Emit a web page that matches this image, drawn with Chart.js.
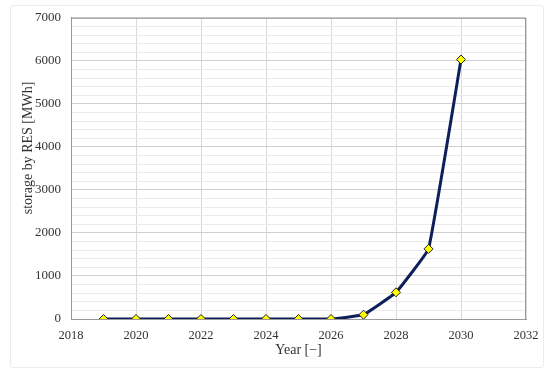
<!DOCTYPE html>
<html>
<head>
<meta charset="utf-8">
<script src="https://cdn.jsdelivr.net/npm/chart.js@4.4.0/dist/chart.umd.min.js"></script>
<style>
  html, body { margin: 0; padding: 0; background: #fff; }
  #wrap { position: relative; width: 550px; height: 373px; }
  #frame { position: absolute; left: 10px; top: 5px; width: 532px; height: 361px;
           border: 1px solid #ececec; border-radius: 3px; }
  canvas { position: absolute; left: 0; top: 0; }
</style>
</head>
<body>
<div id="wrap">
  <div id="frame"></div>
  <canvas id="myChart" width="550" height="373"></canvas>
</div>
<script>
// dados
var years = [2019, 2020, 2021, 2022, 2023, 2024, 2025, 2026, 2027, 2028, 2029, 2030];
var storage = [0, 0, 0, 0, 0, 0, 0, 0, 100, 620, 1630, 6030];
var yTitle = 'storage by RES [MWh]';
var xTitle = 'Year [−]';

var points = years.map(function (y, i) { return { x: y, y: storage[i] }; });

var ctx = document.getElementById('myChart').getContext('2d');

var myChart = new Chart(ctx, {
  type: 'line',
  data: {
    datasets: [{
      label: 'storage by RES',
      data: points,
      borderColor: '#0f1f5c',
      borderWidth: 3,
      tension: 0.08,
      pointStyle: 'rectRot',
      pointRadius: 4.5,
      pointBackgroundColor: '#ffff00',
      pointBorderColor: '#222',
      pointBorderWidth: 1
    }]
  },
  options: {
    responsive: false,
    animation: false,
    layout: { padding: { left: 10, right: 24, top: 9, bottom: 10 } },
    plugins: { legend: { display: false }, tooltip: { enabled: false } },
    scales: {
      x: {
        type: 'linear',
        min: 2018,
        max: 2032,
        border: { color: '#999', width: 1 },
        grid: { color: '#d9d9d9', drawTicks: false },
        ticks: { stepSize: 2, color: '#333', font: { family: 'Liberation Serif', size: 12.5 }, padding: 9,
                 callback: function (v) { return String(v); } },
        title: { display: true, text: xTitle, color: '#333',
                 font: { family: 'Liberation Serif', size: 14 }, padding: { top: 1 } },
        afterFit: function (s) { s.height = 44; }
      },
      y: {
        min: 0,
        max: 7000,
        border: { color: '#999', width: 1 },
        grid: {
          drawTicks: false,
          color: function (c) { return c.tick.value % 1000 === 0 ? '#cfcfcf' : '#ebebeb'; }
        },
        ticks: {
          stepSize: 200, color: '#333', font: { family: 'Liberation Serif', size: 13 }, padding: 10, autoSkip: false,
          callback: function (v) { return v % 1000 === 0 ? String(v) : ''; }
        },
        afterFit: function (s) { s.width = 61; }
      }
    }
  },
  plugins: [{
    id: 'boxBorder',
    afterDraw: function (chart) {
      var a = chart.chartArea, c = chart.ctx;
      c.save();
      c.strokeStyle = '#999';
      c.lineWidth = 1;
      c.strokeRect(a.left + 0.5, a.top + 0.5, a.right - a.left - 1, a.bottom - a.top);
      // título do eixo y (um pouco acima do centro, como no original)
      c.translate(28, 148);
      c.rotate(-Math.PI / 2);
      c.fillStyle = '#333';
      c.font = '14px "Liberation Serif"';
      c.textAlign = 'center';
      c.textBaseline = 'middle';
      c.fillText(yTitle, 0, 0);
      c.restore();
    }
  }]
});
</script>
</body>
</html>
